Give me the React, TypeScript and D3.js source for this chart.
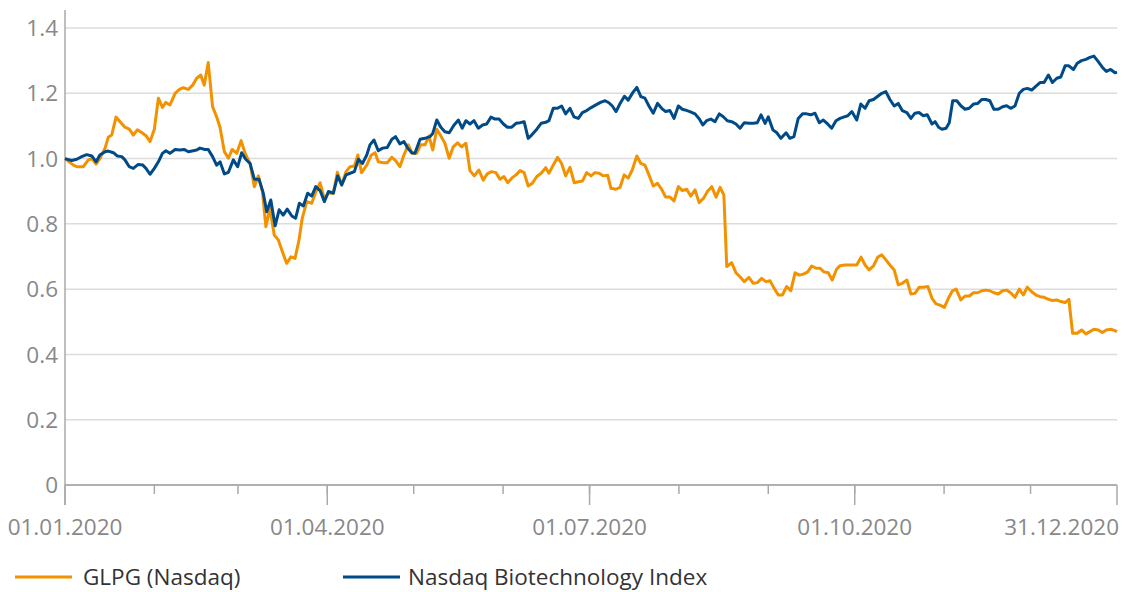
import React, { useEffect, useRef } from "react";
import * as d3 from "d3";

// values: [days since 01.01.2020, relative price]
const glpg: [number, number][] = [
  [0, 1.0], [2.9, 0.98], [4.1, 0.975], [6.3, 0.975], [8.1, 0.996], [9.3, 1.0], [10.8, 0.983], [12.1, 1.0],
  [13.9, 1.032], [15.0, 1.065], [16.2, 1.072], [17.7, 1.127], [19.1, 1.113], [20.8, 1.096], [22.3, 1.09],
  [23.7, 1.072], [25.1, 1.088], [26.6, 1.08], [28.1, 1.07], [29.5, 1.052], [31.0, 1.09], [32.4, 1.185],
  [33.8, 1.157], [35.0, 1.172], [36.4, 1.164], [38.2, 1.2], [39.7, 1.212], [41.0, 1.217], [42.8, 1.212],
  [44.3, 1.225], [45.7, 1.246], [47.1, 1.256], [48.3, 1.225], [49.7, 1.294], [51.2, 1.159], [52.6, 1.128],
  [53.8, 1.095], [55.3, 1.021], [56.7, 1.001], [58.0, 1.028], [59.6, 1.016], [61.1, 1.055], [62.5, 1.016],
  [64.2, 0.985], [65.7, 0.914], [67.1, 0.947], [68.5, 0.899], [69.7, 0.791], [71.1, 0.848], [72.6, 0.766],
  [74.0, 0.751], [75.4, 0.715], [76.9, 0.679], [78.4, 0.699], [79.8, 0.694], [81.2, 0.751], [82.3, 0.817],
  [83.9, 0.868], [85.6, 0.863], [87.1, 0.899], [88.5, 0.926], [90.0, 0.875], [91.4, 0.894], [93.1, 0.894],
  [94.5, 0.958], [96.0, 0.919], [97.5, 0.96], [98.9, 0.975], [100.4, 0.977], [101.6, 1.011], [102.9, 0.957],
  [104.7, 0.98], [106.2, 1.01], [107.6, 1.018], [108.7, 0.99], [110.4, 0.987], [111.8, 0.987], [113.4, 1.004],
  [114.7, 0.994], [116.2, 0.975], [117.6, 1.011], [119.1, 1.042], [120.5, 1.016], [122.0, 1.016], [123.4, 1.042],
  [124.9, 1.042], [126.3, 1.069], [127.6, 1.026], [129.0, 1.09], [130.4, 1.069], [131.8, 1.047], [133.3, 1.001],
  [134.7, 1.036], [136.2, 1.048], [137.6, 1.036], [139.1, 1.047], [140.5, 0.963], [142.0, 0.947], [143.6, 0.965],
  [145.1, 0.934], [146.5, 0.953], [148.0, 0.96], [149.5, 0.957], [150.9, 0.937], [152.3, 0.945], [153.6, 0.926],
  [155.0, 0.94], [156.5, 0.95], [157.9, 0.963], [159.3, 0.957], [160.7, 0.916], [162.1, 0.924], [163.7, 0.945],
  [165.2, 0.955], [166.8, 0.972], [167.9, 0.955], [169.4, 0.98], [170.9, 1.004], [172.3, 0.985], [173.7, 0.947],
  [175.2, 0.973], [176.7, 0.926], [178.1, 0.929], [179.5, 0.931], [181.0, 0.957], [182.5, 0.947], [183.9, 0.957],
  [185.3, 0.955], [186.8, 0.947], [188.3, 0.949], [189.4, 0.909], [191.1, 0.906], [192.6, 0.912], [194.0, 0.95],
  [195.4, 0.94], [196.8, 0.965], [198.4, 1.008], [199.8, 0.985], [201.2, 0.98], [202.6, 0.95], [204.1, 0.916],
  [205.6, 0.924], [207.0, 0.906], [208.4, 0.882], [209.9, 0.882], [211.3, 0.87], [212.8, 0.914], [214.2, 0.902],
  [215.7, 0.906], [217.1, 0.885], [218.6, 0.904], [220.0, 0.865], [221.5, 0.878], [222.9, 0.899], [224.4, 0.914],
  [225.9, 0.882], [227.3, 0.912], [228.6, 0.888], [229.6, 0.669], [231.3, 0.681], [232.8, 0.65], [234.2, 0.638],
  [235.7, 0.623], [237.3, 0.636], [238.8, 0.618], [240.2, 0.62], [241.7, 0.633], [243.2, 0.623], [244.6, 0.626],
  [246.0, 0.603], [247.5, 0.582], [248.9, 0.582], [250.4, 0.608], [251.8, 0.595], [253.3, 0.65], [254.8, 0.643],
  [256.2, 0.646], [257.7, 0.653], [259.1, 0.671], [260.6, 0.664], [262.0, 0.664], [263.3, 0.653], [264.8, 0.65],
  [266.2, 0.628], [267.7, 0.661], [268.9, 0.672], [270.6, 0.674], [272.4, 0.674], [274.7, 0.674], [276.2, 0.698],
  [277.6, 0.674], [279.0, 0.659], [280.5, 0.671], [282.0, 0.698], [283.4, 0.705], [284.9, 0.689], [286.2, 0.674],
  [287.7, 0.659], [289.1, 0.613], [290.5, 0.618], [292.1, 0.628], [293.5, 0.585], [294.9, 0.587], [296.4, 0.606],
  [297.8, 0.606], [299.4, 0.608], [300.8, 0.572], [302.2, 0.555], [303.6, 0.551], [305.1, 0.544], [306.5, 0.572],
  [307.9, 0.595], [309.2, 0.6], [310.8, 0.567], [312.3, 0.579], [313.8, 0.579], [315.2, 0.589], [316.7, 0.589],
  [318.1, 0.595], [319.5, 0.597], [320.9, 0.595], [322.3, 0.589], [323.8, 0.585], [325.3, 0.595], [326.7, 0.597],
  [328.1, 0.589], [329.6, 0.575], [331.1, 0.6], [332.5, 0.582], [333.9, 0.606], [335.4, 0.592], [336.9, 0.582],
  [338.3, 0.577], [339.7, 0.575], [341.2, 0.569], [342.6, 0.565], [344.1, 0.567], [345.5, 0.562], [347.0, 0.559],
  [348.3, 0.569], [349.6, 0.465], [351.2, 0.465], [352.7, 0.475], [354.2, 0.463], [355.6, 0.47], [357.0, 0.477],
  [358.5, 0.475], [359.9, 0.467], [361.3, 0.475], [362.8, 0.477], [364.3, 0.473], [365.0, 0.47],
];

const nbi: [number, number][] = [
  [0, 1.0], [2.3, 0.994], [4.1, 0.998], [5.8, 1.006], [7.5, 1.012], [9.3, 1.008], [10.8, 0.99], [12.1, 1.011],
  [13.9, 1.021], [15.0, 1.023], [16.8, 1.018], [18.1, 1.008], [19.7, 1.006], [20.8, 0.996], [22.3, 0.975],
  [23.7, 0.97], [25.4, 0.982], [27.0, 0.98], [28.1, 0.97], [29.5, 0.952], [31.0, 0.97], [32.4, 0.99],
  [33.8, 1.016], [35.0, 1.024], [36.4, 1.016], [38.2, 1.028], [39.9, 1.026], [41.3, 1.028], [42.8, 1.021],
  [44.5, 1.024], [45.7, 1.026], [46.8, 1.032], [48.6, 1.028], [49.7, 1.028], [51.2, 1.006], [52.6, 0.98],
  [53.8, 0.99], [55.3, 0.953], [56.7, 0.958], [58.4, 0.996], [59.9, 0.975], [61.3, 1.018], [62.7, 0.998],
  [64.2, 0.985], [65.7, 0.937], [67.3, 0.937], [68.8, 0.894], [70.0, 0.837], [71.4, 0.873], [72.9, 0.794],
  [74.3, 0.843], [75.7, 0.827], [77.1, 0.845], [78.7, 0.824], [80.0, 0.817], [81.3, 0.863], [82.7, 0.855],
  [84.2, 0.894], [85.6, 0.885], [87.0, 0.914], [88.5, 0.902], [90.0, 0.868], [91.4, 0.899], [93.1, 0.894],
  [94.6, 0.947], [96.0, 0.919], [97.5, 0.95], [98.9, 0.955], [100.4, 0.96], [101.8, 0.998], [103.2, 0.985],
  [104.7, 1.011], [105.8, 1.042], [107.2, 1.057], [108.7, 1.024], [110.2, 1.032], [111.8, 1.034], [113.4, 1.059],
  [114.7, 1.067], [116.2, 1.045], [117.6, 1.052], [118.9, 1.032], [120.3, 1.018], [121.4, 1.016], [123.2, 1.059],
  [124.9, 1.062], [126.6, 1.067], [127.6, 1.077], [129.0, 1.118], [130.4, 1.096], [131.8, 1.082], [133.3, 1.079],
  [135.0, 1.103], [136.5, 1.118], [137.8, 1.093], [139.1, 1.116], [140.5, 1.106], [141.9, 1.116], [143.4, 1.093],
  [144.9, 1.103], [146.3, 1.106], [147.8, 1.127], [149.2, 1.121], [150.6, 1.121], [152.1, 1.106], [153.5, 1.096],
  [155.0, 1.096], [156.5, 1.108], [157.9, 1.11], [159.3, 1.113], [160.7, 1.062], [161.9, 1.072], [163.7, 1.09],
  [165.2, 1.108], [166.8, 1.111], [167.9, 1.116], [169.4, 1.154], [170.9, 1.154], [172.3, 1.161], [173.7, 1.137],
  [175.2, 1.154], [176.6, 1.128], [178.1, 1.123], [179.5, 1.141], [181.0, 1.147], [182.7, 1.157], [184.5, 1.166],
  [186.0, 1.173], [187.4, 1.177], [188.7, 1.171], [189.9, 1.161], [191.2, 1.144], [192.6, 1.169], [194.1, 1.191],
  [195.4, 1.179], [197.0, 1.202], [198.4, 1.218], [199.8, 1.19], [201.2, 1.185], [202.6, 1.161], [204.1, 1.139],
  [205.6, 1.169], [207.0, 1.154], [208.4, 1.144], [209.9, 1.147], [211.3, 1.123], [212.8, 1.161], [214.2, 1.151],
  [215.1, 1.149], [216.8, 1.144], [218.6, 1.137], [220.1, 1.121], [221.3, 1.103], [222.6, 1.116], [224.1, 1.121],
  [225.5, 1.113], [227.0, 1.137], [228.4, 1.128], [229.8, 1.116], [231.3, 1.113], [232.8, 1.106], [234.2, 1.093],
  [235.7, 1.11], [237.3, 1.108], [238.8, 1.108], [240.2, 1.11], [241.5, 1.134], [242.9, 1.108], [244.0, 1.128],
  [245.6, 1.088], [247.0, 1.079], [248.4, 1.062], [250.2, 1.079], [251.5, 1.062], [252.9, 1.067], [254.4, 1.123],
  [255.9, 1.137], [257.3, 1.137], [258.8, 1.134], [260.2, 1.139], [261.7, 1.11], [263.1, 1.118], [264.6, 1.106],
  [266.0, 1.093], [267.5, 1.116], [268.9, 1.123], [270.1, 1.127], [271.6, 1.131], [273.0, 1.144], [274.7, 1.118],
  [276.1, 1.167], [277.6, 1.154], [279.0, 1.177], [280.5, 1.181], [282.0, 1.191], [283.4, 1.2], [284.8, 1.205],
  [286.2, 1.181], [287.7, 1.161], [289.1, 1.169], [290.5, 1.147], [292.1, 1.141], [293.5, 1.123], [294.9, 1.139],
  [296.3, 1.141], [297.8, 1.131], [299.2, 1.134], [300.8, 1.106], [301.9, 1.113], [303.1, 1.096], [304.3, 1.09],
  [305.7, 1.093], [306.8, 1.11], [308.0, 1.177], [309.4, 1.177], [310.9, 1.161], [312.3, 1.151], [313.7, 1.154],
  [315.2, 1.167], [316.7, 1.169], [318.1, 1.181], [319.5, 1.181], [320.9, 1.177], [322.3, 1.151], [323.8, 1.151],
  [325.3, 1.159], [326.7, 1.162], [328.1, 1.154], [329.6, 1.161], [331.1, 1.2], [332.5, 1.212], [333.9, 1.215],
  [335.4, 1.21], [336.9, 1.222], [338.3, 1.233], [339.7, 1.233], [341.2, 1.256], [342.6, 1.233], [344.1, 1.246],
  [345.5, 1.25], [347.0, 1.284], [348.3, 1.284], [349.9, 1.273], [351.2, 1.292], [352.7, 1.3], [354.2, 1.304],
  [355.6, 1.31], [357.0, 1.314], [358.5, 1.297], [359.9, 1.28], [361.3, 1.267], [362.8, 1.273], [364.3, 1.263],
  [365.0, 1.265],
];

const yTicks = [0, 0.2, 0.4, 0.6, 0.8, 1.0, 1.2, 1.4];
const xLabels = ["2020-01-01", "2020-04-01", "2020-07-01", "2020-10-01", "2020-12-31"];
const seriesNames = ["GLPG (Nasdaq)", "Nasdaq Biotechnology Index"];

const ORANGE = "#f39200";
const BLUE = "#004b87";
const FONT = "'Open Sans', sans-serif";
const FS = 22.5;

export default function App() {
  const svgRef = useRef<SVGSVGElement>(null);

  useEffect(() => {
    const svg = d3.select(svgRef.current);
    svg.selectAll("*").remove();

    const start = new Date(2020, 0, 1);
    const end = new Date(2020, 11, 31);
    const toDate = (d: number) => new Date(start.getTime() + d * 864e5);

    const x = d3.scaleTime().domain([start, end]).range([65, 1117]);
    const y = d3.scaleLinear().domain([0, 1.4]).range([485, 28]);

    // gridlines
    svg.append("g")
      .selectAll("line")
      .data(yTicks.filter(t => t > 0))
      .join("line")
      .attr("x1", 65).attr("x2", 1117)
      .attr("y1", d => y(d)).attr("y2", d => y(d))
      .attr("stroke", "#dcdcdc").attr("stroke-width", 1.5);

    // y labels
    svg.append("g")
      .selectAll("text")
      .data(yTicks)
      .join("text")
      .attr("x", 58).attr("y", d => y(d))
      .attr("dy", "0.36em")
      .attr("text-anchor", "end")
      .attr("fill", "#888").attr("font-size", FS).attr("font-family", FONT)
      .text(d => (d === 0 ? "0" : d3.format(".1f")(d)));

    // y axis line
    svg.append("line")
      .attr("x1", 65).attr("x2", 65).attr("y1", 10).attr("y2", 505)
      .attr("stroke", "#aaa").attr("stroke-width", 1.5);

    // baseline
    svg.append("line")
      .attr("x1", 65).attr("x2", 1117).attr("y1", y(0)).attr("y2", y(0))
      .attr("stroke", "#b0b0b0").attr("stroke-width", 2);

    // monthly minor ticks
    const months = d3.timeMonth.range(new Date(2020, 1, 1), end);
    svg.append("g")
      .selectAll("line")
      .data(months)
      .join("line")
      .attr("x1", d => x(d)).attr("x2", d => x(d))
      .attr("y1", y(0)).attr("y2", y(0) + 9)
      .attr("stroke", "#aaa").attr("stroke-width", 1.5);

    // major ticks + labels
    const fmt = d3.timeFormat("%d.%m.%Y");
    const majors = xLabels.map(s => d3.timeParse("%Y-%m-%d")(s) as Date);
    svg.append("g")
      .selectAll("line")
      .data(majors)
      .join("line")
      .attr("x1", d => x(d)).attr("x2", d => x(d))
      .attr("y1", y(0)).attr("y2", y(0) + 20)
      .attr("stroke", "#aaa").attr("stroke-width", 1.5);

    svg.append("g")
      .selectAll("text")
      .data(majors)
      .join("text")
      .attr("x", (d, i) => (i === majors.length - 1 ? 1119 : x(d)))
      .attr("y", 535)
      .attr("text-anchor", (d, i) => (i === majors.length - 1 ? "end" : "middle"))
      .attr("fill", "#888").attr("font-size", FS).attr("font-family", FONT)
      .text(d => fmt(d));

    // lines
    const line = d3.line<[number, number]>()
      .x(d => x(toDate(d[0])))
      .y(d => y(d[1]));

    const series = [
      { data: glpg, color: ORANGE },
      { data: nbi, color: BLUE },
    ];
    series.forEach(s => {
      svg.append("path")
        .datum(s.data)
        .attr("fill", "none")
        .attr("stroke", s.color)
        .attr("stroke-width", 3)
        .attr("stroke-linejoin", "round")
        .attr("d", line);
    });

    // legend
    const legendX = [15, 343];
    const legend = svg.append("g")
      .selectAll("g")
      .data(seriesNames)
      .join("g")
      .attr("transform", (d, i) => `translate(${legendX[i]},577)`);
    legend.append("line")
      .attr("x1", 0).attr("x2", 57)
      .attr("stroke", (d, i) => (i === 0 ? ORANGE : BLUE))
      .attr("stroke-width", 3);
    legend.append("text")
      .attr("x", (d, i) => (i === 0 ? 68 : 65))
      .attr("dy", "0.36em")
      .attr("fill", "#333").attr("font-size", FS).attr("font-family", FONT)
      .text(d => d);
  }, []);

  return (
    <svg
      ref={svgRef}
      width={1128}
      height={592}
      style={{ position: "absolute", left: 0, top: 0, background: "#fff" }}
    />
  );
}
